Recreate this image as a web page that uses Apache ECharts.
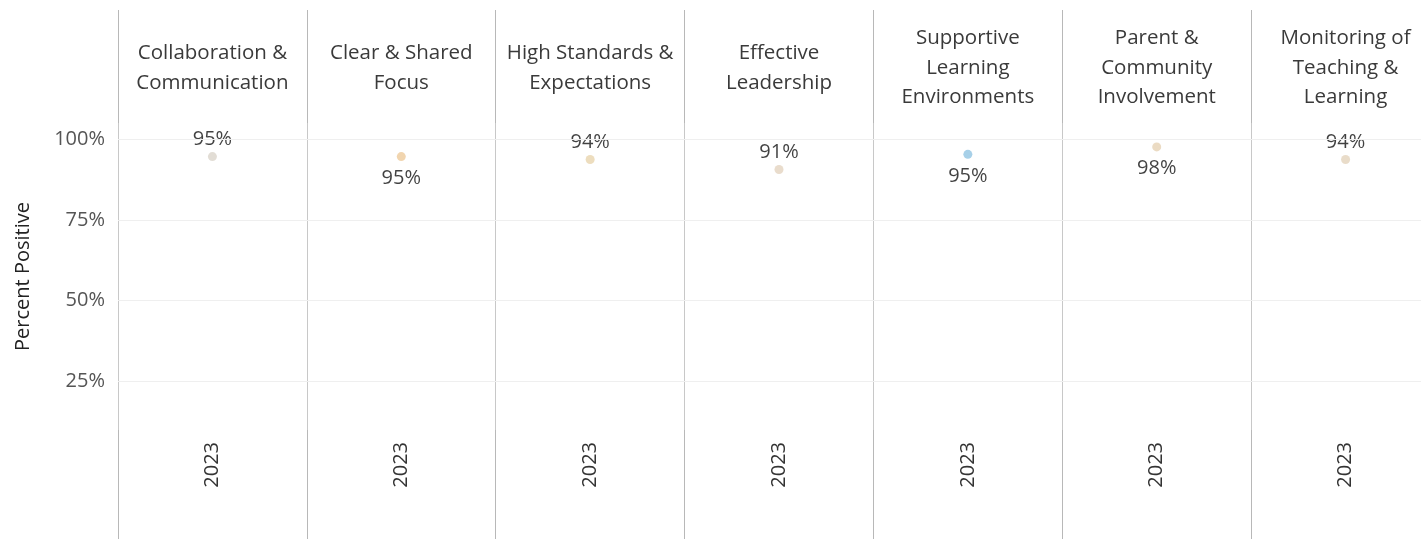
<!DOCTYPE html>
<html>
<head>
<meta charset="utf-8">
<script src="https://cdn.jsdelivr.net/npm/echarts@6/dist/echarts.min.js"></script>
<style>
  html, body { margin: 0; padding: 0; background: #fff; }
  #chart { width: 1421px; height: 539px; }
</style>
</head>
<body>
<div id="chart"></div>
<script>
// panels (one per survey domain)
const categories = [
  'Collaboration &\nCommunication',
  'Clear & Shared\nFocus',
  'High Standards &\nExpectations',
  'Effective\nLeadership',
  'Supportive\nLearning\nEnvironments',
  'Parent &\nCommunity\nInvolvement',
  'Monitoring of\nTeaching &\nLearning',
];
const years = ['2023', '2023', '2023', '2023', '2023', '2023', '2023'];
// percent positive
const values = [94.6, 94.6, 93.7, 90.6, 95.3, 97.6, 93.7];
const yTicks = [25, 50, 75, 100];

// styling per panel
const dotColors = ['#dbd5ca', '#edca9b', '#e8d4ae', '#e3d3bf', '#91c4e2', '#e6d2b4', '#e3d3bc'];
const labelSide = ['top', 'bottom', 'top', 'top', 'bottom', 'bottom', 'top'];

const FONT = '"Open Sans", sans-serif';
const SEP = '#b8b8b8';

const chart = echarts.init(document.getElementById('chart'));

// last panel runs past the right edge, so let the grids overflow
const gridBox = (top, height) => ({
  left: 118,
  right: -19,
  top: top,
  height: height,
  outerBoundsMode: 'none',
  containLabel: false,
});

const sepAxis = gridIndex => ({
  type: 'category',
  gridIndex: gridIndex,
  data: years,
  axisLine: { show: false },
  axisTick: { show: false },
  axisLabel: { show: false },
  splitLine: { show: true, lineStyle: { color: SEP, width: 1 } },
});
const hiddenY = gridIndex => ({
  type: 'value',
  gridIndex: gridIndex,
  show: false,
});

chart.setOption({
  animation: false,
  textStyle: { fontFamily: FONT },
  grid: [gridBox(123, 307), gridBox(10, 113), gridBox(430, 109)],
  xAxis: [
    {
      type: 'category',
      gridIndex: 0,
      position: 'bottom',
      data: years,
      axisLine: { show: false },
      axisTick: { show: false },
      splitLine: { show: true, lineStyle: { color: '#c8c8c8', width: 1 } },
      axisLabel: {
        interval: 0,
        rotate: 90,
        margin: 12,
        fontSize: 20,
        color: '#333',
        fontFamily: FONT,
      },
    },
    {
      type: 'category',
      gridIndex: 0,
      position: 'top',
      data: categories,
      axisLine: { show: false },
      axisTick: { show: false },
      splitLine: { show: false },
      axisLabel: {
        interval: 0,
        hideOverlap: false,
        margin: 55,
        verticalAlign: 'middle',
        fontSize: 20.5,
        lineHeight: 29.5,
        color: '#3a3a3a',
        fontFamily: FONT,
      },
    },
    sepAxis(1),
    sepAxis(2),
  ],
  yAxis: [
    {
      type: 'value',
      gridIndex: 0,
      min: 10,
      max: 105,
      interval: 5,
      name: 'Percent Positive',
      nameLocation: 'middle',
      nameGap: 85,
      nameTextStyle: { fontSize: 20, color: '#222', fontFamily: FONT },
      axisLine: { show: false },
      axisTick: { show: false },
      splitLine: { show: false },
      axisLabel: {
        margin: 13,
        fontSize: 20,
        color: '#555',
        fontFamily: FONT,
        showMinLabel: false,
        showMaxLabel: false,
        formatter: v => (yTicks.indexOf(v) >= 0 ? v + '%' : ''),
      },
    },
    hiddenY(1),
    hiddenY(2),
  ],
  series: [
    {
      type: 'line',
      xAxisIndex: 0,
      yAxisIndex: 0,
      data: [],
      silent: true,
      markLine: {
        silent: true,
        symbol: 'none',
        label: { show: false },
        lineStyle: { color: '#efefef', width: 1, type: 'solid' },
        data: yTicks.map(t => ({ yAxis: t })),
      },
    },
    {
      type: 'scatter',
      xAxisIndex: 0,
      yAxisIndex: 0,
      symbolSize: 9,
      data: values.map((v, i) => ({
        value: [i, v],
        itemStyle: { color: dotColors[i] },
        label: {
          show: true,
          position: labelSide[i],
          distance: labelSide[i] === 'top' ? 3 : 7,
          formatter: Math.round(v) + '%',
          fontSize: 20,
          color: '#111',
          fontFamily: FONT,
        },
      })),
    },
  ],
});
</script>
</body>
</html>
